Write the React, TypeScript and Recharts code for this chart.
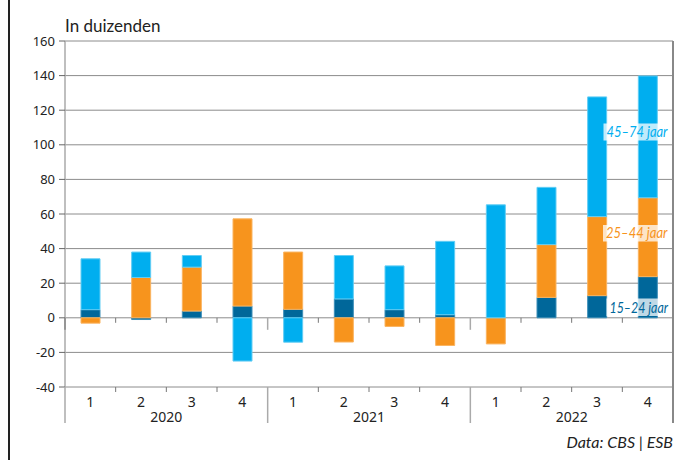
import { Bar, BarChart, CartesianGrid, XAxis, YAxis } from "recharts";

// quarterly change in employment, thousands, by age group
const quarters = ["1", "2", "3", "4", "1", "2", "3", "4", "1", "2", "3", "4"];
const years = ["2020", "2020", "2020", "2020", "2021", "2021", "2021", "2021", "2022", "2022", "2022", "2022"];
const age15to24 = [4.7, -1, 3.9, 6.8, 4.9, 10.9, 4.7, 1.8, 0, 11.8, 12.8, 23.8];
const age25to44 = [-3.1, 23.3, 25.4, 50.4, 33.1, -14, -5, -16, -15.1, 30.5, 45.7, 45.6];
const age45to74 = [29.4, 14.7, 6.7, -25, -14.1, 25.1, 25.3, 42.4, 65.3, 33.1, 69.2, 70.4];
const yTicks = [-40, -20, 0, 20, 40, 60, 80, 100, 120, 140, 160];

const data = quarters.map((q, i) => ({
  key: `${years[i]}-${q}`,
  quarter: q,
  year: years[i],
  a: age15to24[i],
  b: age25to44[i],
  c: age45to74[i],
}));

const LIGHT = "#00AEEF";
const ORANGE = "#F7941D";
const DARK = "#00679A";
const FONT = "'Noto Sans', sans-serif";
const TEXT_FONT = "Lato, 'Noto Sans', sans-serif";

const CHART_W = 672;
const CHART_H = 460;
const MARGIN = { top: 41, right: 7, bottom: 37, left: 7 };
const Y_AXIS_W = 50;
const X_AXIS_H = 36;
const PLOT_W = CHART_W - MARGIN.left - MARGIN.right - Y_AXIS_W;
const PLOT_H = CHART_H - MARGIN.top - MARGIN.bottom - X_AXIS_H;
const BAND = PLOT_W / quarters.length;
const Y_MIN = yTicks[0];
const Y_MAX = yTicks[yTicks.length - 1];
const ZERO_UP = (PLOT_H * (0 - Y_MIN)) / (Y_MAX - Y_MIN);

const QuarterTick = (props: any) => {
  const { x, y, index } = props;
  const half = BAND / 2;
  const xr = x + half;
  const xl = x - half;
  const zeroY = y - ZERO_UP;
  const last = index === quarters.length - 1;
  const yearEnd = index % 4 === 3;
  return (
    <g>
      <text x={x} y={y + 20} textAnchor="middle" fill="#222" fontSize={14} fontFamily={FONT}>
        {quarters[index]}
      </text>
      {index % 4 === 1 && (
        <text x={xr} y={y + 35} textAnchor="middle" fill="#222" fontSize={14} fontFamily={FONT}>
          {years[index]}
        </text>
      )}
      {index === 0 && (
        <>
          <line x1={xl} x2={xl} y1={y} y2={y + X_AXIS_H} stroke="#aaa" strokeWidth={1.5} />
          <line x1={xl} x2={xl} y1={zeroY} y2={zeroY + 12} stroke="#888" strokeWidth={1.5} />
        </>
      )}
      {last ? (
        // right frame of the plot, from the top gridline through the axis labels
        <line x1={xr} x2={xr} y1={y - PLOT_H} y2={y + X_AXIS_H} stroke="#888" strokeWidth={2} />
      ) : yearEnd ? (
        <>
          <line x1={xr} x2={xr} y1={y} y2={y + X_AXIS_H} stroke="#aaa" strokeWidth={1.5} />
          <line x1={xr} x2={xr} y1={zeroY} y2={zeroY + 12} stroke="#aaa" strokeWidth={1.5} />
        </>
      ) : (
        <>
          <line x1={xr} x2={xr} y1={y} y2={y + 5} stroke="#777" />
          <line x1={xr} x2={xr} y1={zeroY} y2={zeroY + 5} stroke="#777" />
        </>
      )}
    </g>
  );
};

const SeriesLabel = ({ x, y, w, h, color, children }: any) => (
  <g>
    <rect x={x} y={y} width={w} height={h} fill="#fff" fillOpacity={0.75} />
    <text
      x={x + 3}
      y={y + h - 3.5}
      fill={color}
      fontSize={15}
      fontStyle="italic"
      fontFamily={TEXT_FONT}
      textLength={w - 5}
      lengthAdjust="spacingAndGlyphs"
    >
      {children}
    </text>
  </g>
);

export default function App() {
  return (
    <>
      <style>{"html, body { overflow: hidden; }"}</style>
      <div style={{ position: "absolute", left: 8, top: 0, width: 676, height: 460, background: "#fff", overflow: "hidden" }}>
        <div style={{ position: "absolute", left: 0, top: 0, width: 1.5, height: 460, background: "#222" }} />
        <div style={{ position: "absolute", left: 0, top: 0 }}>
          <BarChart width={CHART_W} height={CHART_H} data={data} margin={MARGIN} stackOffset="sign" barSize={19}>
            <CartesianGrid vertical={false} stroke="#8c8c8c" />
            <XAxis
              dataKey="key"
              height={X_AXIS_H}
              axisLine={false}
              tickLine={false}
              tickSize={0}
              tickMargin={0}
              interval={0}
              tick={<QuarterTick />}
            />
            <YAxis
              type="number"
              domain={[Y_MIN, Y_MAX]}
              ticks={yTicks}
              interval={0}
              width={Y_AXIS_W}
              axisLine={{ stroke: "#aaa", strokeWidth: 1.5 }}
              tickLine={{ stroke: "#666" }}
              tickSize={6}
              tickMargin={4}
              tick={{ fill: "#222", fontSize: 13, fontFamily: FONT }}
            />
            <Bar dataKey="a" stackId="s" fill={DARK} stroke="#3d8fb8" strokeWidth={1} isAnimationActive={false} />
            <Bar dataKey="b" stackId="s" fill={ORANGE} stroke="#fab461" strokeWidth={1} isAnimationActive={false} />
            <Bar dataKey="c" stackId="s" fill={LIGHT} stroke="#62cdf4" strokeWidth={1} isAnimationActive={false} />
          </BarChart>
        </div>
        <svg
          width={676}
          height={460}
          style={{ position: "absolute", left: 0, top: 0, pointerEvents: "none" }}
        >
          <g transform="translate(-8,0)">
            <text x={65} y={31.5} fill="#222" fontSize={17} fontFamily={TEXT_FONT}>
              In duizenden
            </text>
            <text x={673} y={448} textAnchor="end" fill="#222" fontSize={16} fontStyle="italic" fontFamily={TEXT_FONT}>
              Data: CBS | ESB
            </text>
            <SeriesLabel x={603.5} y={123.5} w={66} h={17} color={LIGHT}>
              45–74 jaar
            </SeriesLabel>
            <SeriesLabel x={603} y={225} w={66.5} h={16.5} color={ORANGE}>
              25–44 jaar
            </SeriesLabel>
            <SeriesLabel x={606.5} y={298.5} w={63.5} h={17.5} color={DARK}>
              15–24 jaar
            </SeriesLabel>
          </g>
        </svg>
      </div>
    </>
  );
}
